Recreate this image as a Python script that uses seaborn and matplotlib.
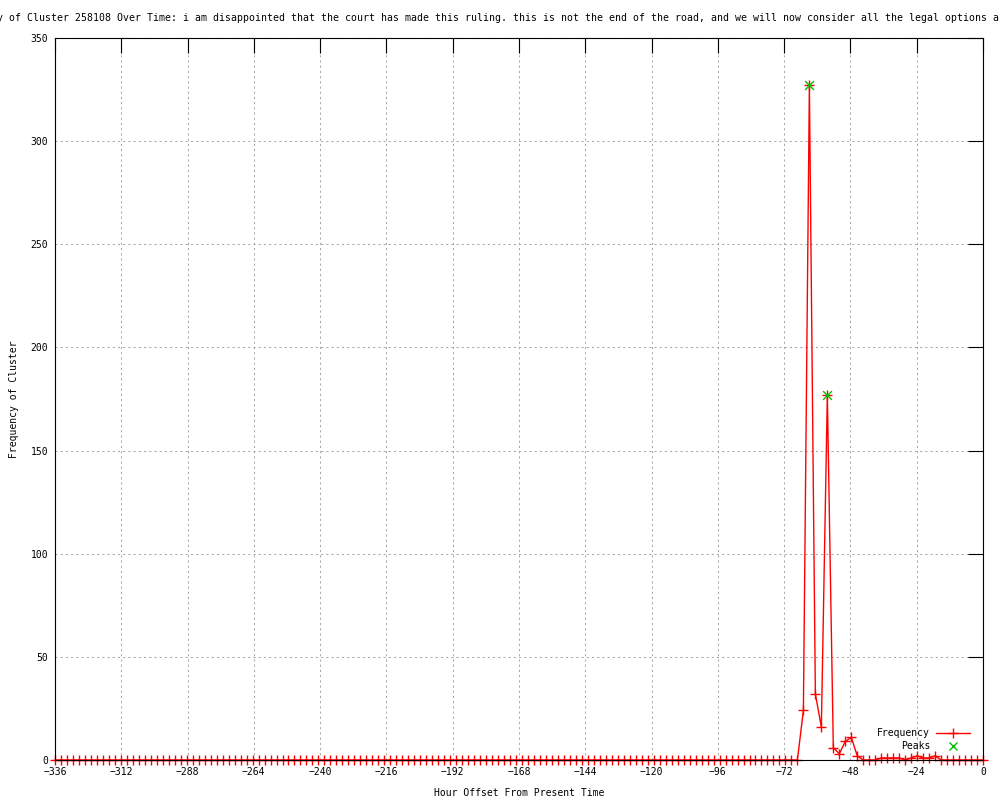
import numpy as np
import pandas as pd
import matplotlib
matplotlib.use("Agg")
import matplotlib.pyplot as plt
from matplotlib.lines import Line2D
import seaborn as sns

# hourly bins over two weeks (156 bins from -336 to 0)
hours = np.linspace(-336, 0, 156)
freq = [0] * 125 + [24, 327, 32, 16, 177, 6, 3, 9, 11, 2,
                    0, 0, 0, 1, 1, 1, 1, 0, 1, 2, 1, 1, 2] + [0] * 8
peak_idx = [126, 129]

title = ("Frequency of Cluster 258108 Over Time: i am disappointed that the court has made "
         "this ruling. this is not the end of the road, and we will now consider all the legal options a")

sns.set_theme(style="white")
plt.rcParams['font.family'] = ['DejaVu Sans Mono']
plt.rcParams['text.color'] = 'black'
plt.rcParams['axes.labelcolor'] = 'black'

df = pd.DataFrame({"hour": hours, "freq": freq})
peaks = df.iloc[peak_idx]

fig, ax = plt.subplots(figsize=(10, 8), dpi=100)
fig.subplots_adjust(left=0.055, right=0.983, bottom=0.05, top=0.9525)

sns.lineplot(data=df, x="hour", y="freq", ax=ax, color="red", linewidth=1,
             marker="+", markersize=7, markeredgewidth=1, markeredgecolor="red",
             clip_on=False, zorder=2)
sns.scatterplot(data=peaks, x="hour", y="freq", ax=ax, marker="x", color="#00c000",
                s=40, linewidth=1, clip_on=False, zorder=3)

ax.set_xlim(-336, 0)
ax.set_ylim(0, 350)
ax.set_xticks(range(-336, 1, 24))
ax.set_yticks(range(0, 351, 50))
ax.grid(True, color="#a8a8a8", linestyle=(0, (2, 3)), linewidth=0.75)
ax.tick_params(direction="in", length=11, width=0.8, top=True, right=True,
               labelsize=7, colors="black", pad=5)
for s in ax.spines.values():
    s.set_color("black")
    s.set_linewidth(0.8)
    s.set_zorder(4)

ax.set_xlabel("Hour Offset From Present Time", fontsize=7, labelpad=8)
ax.set_ylabel("Frequency of Cluster", fontsize=7, labelpad=8)
fig.text(-0.051, 0.977, title, ha="left", va="center", fontsize=7.1)

# legend in gnuplot style (text right-aligned, sample on the right)
fig.text(0.930, 1 - 733 / 800, "Frequency", ha="right", va="center", fontsize=7)
fig.text(0.930, 1 - 746 / 800, "Peaks", ha="right", va="center", fontsize=7)
fig.add_artist(Line2D([0.936, 0.970], [1 - 733 / 800] * 2, transform=fig.transFigure,
                      color="red", linewidth=1))
fig.add_artist(Line2D([0.953], [1 - 733 / 800], transform=fig.transFigure, color="red",
                      marker="+", markersize=7, markeredgewidth=1, linestyle="none"))
fig.add_artist(Line2D([0.953], [1 - 746 / 800], transform=fig.transFigure, color="#00c000",
                      marker="x", markersize=6, markeredgewidth=1, linestyle="none"))

ax.get_legend() and ax.get_legend().remove()
fig.savefig("out.png", dpi=100)
